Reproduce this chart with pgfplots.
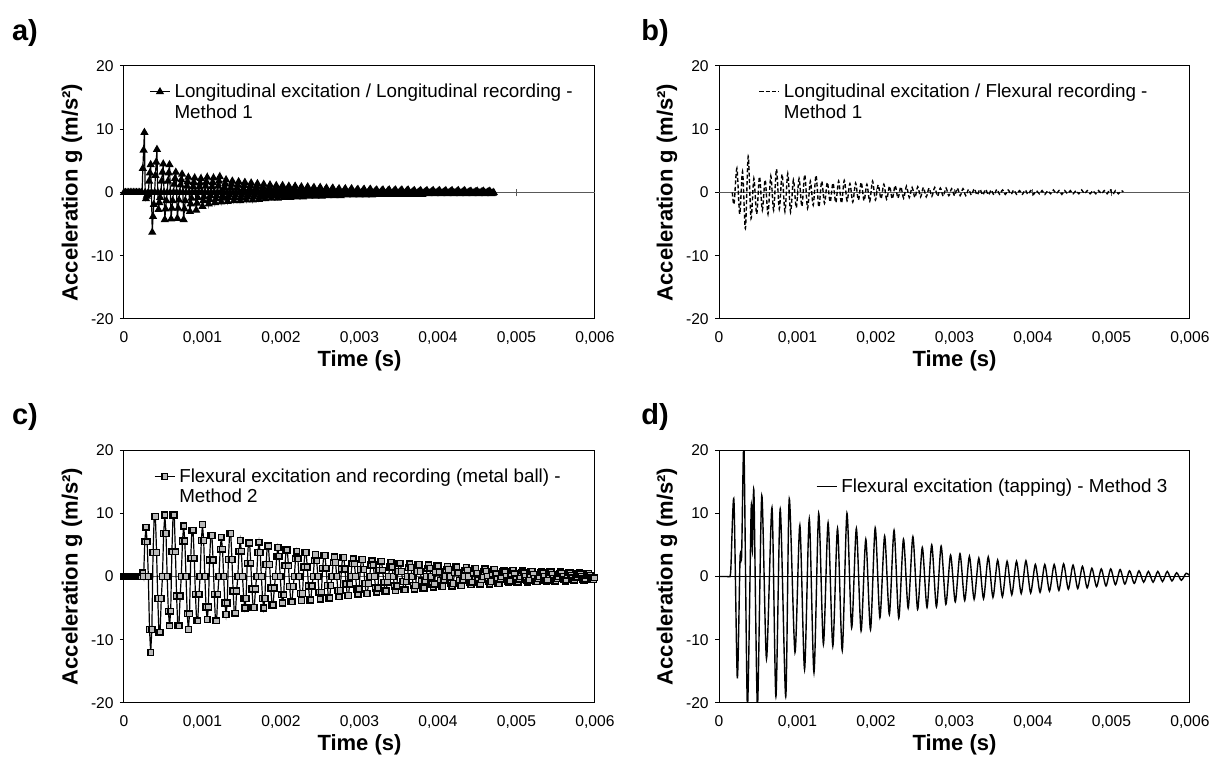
\documentclass[border=0pt]{standalone}
\usepackage{fontspec}
\setmainfont{Liberation Sans}
\usepackage{pgfplots}
\pgfplotsset{compat=1.18}
\pgfplotsset{
  panel/.style={
    scale only axis, width=235.5pt, height=126.5pt, anchor=south west,
    xmin=0, xmax=6000, ymin=-20, ymax=20,
    xtick={0,1000,2000,3000,4000,5000,6000},
    xticklabels={0,{0,001},{0,002},{0,003},{0,004},{0,005},{0,006}},
    ytick={-20,-10,0,10,20},
    yticklabels={-20,-10,0,10,20},
    scaled x ticks=false,
    tick label style={font=\fontsize{7.8}{9}\selectfont},
    xtick style={draw=none},
    ytick style={black, line width=0.5pt},
    tick align=outside, major tick length=2pt, tick pos=left,
    yticklabel style={inner sep=0pt, xshift=-3pt},
    xticklabel style={inner sep=0pt, yshift=-4.2pt},
    axis line style={black, line width=0.5pt},
    xlabel={Time (s)},
    xlabel style={font=\bfseries\fontsize{11}{13}\selectfont, inner sep=0pt, at={(axis description cs:0.5,0)}, anchor=center, yshift=-21pt},
    ylabel={Acceleration g (m/s²)},
    ylabel style={font=\bfseries\fontsize{11}{13}\selectfont, inner sep=0pt, at={([xshift=-26pt]axis description cs:0,0.5)}, anchor=center},
    legend style={draw=none, fill=none, anchor=north west, font=\fontsize{9.4}{10.3}\selectfont, inner sep=0pt, row sep=0pt, cells={anchor=west}},
    legend cell align=left,
    legend image code/.code={\draw[mark repeat=2,mark phase=2,#1] plot coordinates {(0pt,0pt)(5pt,0pt)(10pt,0pt)};},
  },
}
\begin{document}
\begin{tikzpicture}
\useasboundingbox (0,0) rectangle (605.5pt,382.5pt);
\node[font=\bfseries\fontsize{14.5}{16}\selectfont] at (12.5pt,366pt) {a)};
\node[font=\bfseries\fontsize{14.5}{16}\selectfont] at (327.5pt,366pt) {b)};
\node[font=\bfseries\fontsize{14.5}{16}\selectfont] at (12.5pt,174pt) {c)};
\node[font=\bfseries\fontsize{14.5}{16}\selectfont] at (327.5pt,174pt) {d)};
% ---------------- a ----------------
\begin{axis}[panel, at={(62pt,223pt)}, legend style={at={(axis description cs:0.053,0.95)}}]
\draw[gray!70!black, line width=0.5pt] (axis cs:0,0) -- (axis cs:6000,0)
  (axis cs:1000,-0.6) -- (axis cs:1000,0.6) (axis cs:2000,-0.6) -- (axis cs:2000,0.6)
  (axis cs:3000,-0.6) -- (axis cs:3000,0.6) (axis cs:4000,-0.6) -- (axis cs:4000,0.6)
  (axis cs:5000,-0.6) -- (axis cs:5000,0.6);
\addplot[black, line width=0.6pt, mark=triangle*, mark size=1.8pt, mark options={solid, fill=black}] coordinates {
(0,0)(20,0)(40,0)(60,0)(80,0)(100,0)(120,0)(140,0)(160,0)(180,0)(200,0)(220,0)(230,0)
(240,3.8)(250,6.7)(260,9.5)(270,0)(280,-1.0)(290,-0.6)(300,-0.3)(310,0)
(320,1.8)(330,3.1)(340,4.4)(350,0)(360,-6.3)(370,-3.8)(380,-1.9)(390,0)
(400,2.7)(410,4.8)(420,6.8)(430,0)(440,-2.7)(450,-1.6)(460,-0.8)(470,0)
(480,1.8)(490,3.2)(500,4.5)(510,0)(520,-4.3)(530,-2.6)(540,-1.3)(550,0)
(560,1.8)(570,3.1)(580,4.4)(590,0)(600,-4.2)(610,-2.5)(620,-1.3)(630,0)
(640,1.3)(650,2.2)(660,3.2)(670,0)(680,-4.1)(690,-2.5)(700,-1.2)(710,0)
(720,1.2)(730,2.0)(740,2.9)(750,0)(760,-4.3)(770,-2.6)(780,-1.3)(790,0)
(800,1.0)(810,1.7)(820,2.4)(830,0)(840,-3.0)(850,-1.8)(860,-0.9)(870,0)
(880,0.9)(890,1.6)(900,2.3)(910,0)(920,-2.8)(930,-1.7)(940,-0.8)(950,0)
(960,0.9)(970,1.5)(980,2.2)(990,0)(1000,-2.2)(1010,-1.3)(1020,-0.7)(1030,0)
(1040,1.0)(1050,1.7)(1060,2.4)(1070,0)(1080,-1.8)(1090,-1.1)(1100,-0.5)(1110,0)
(1120,0.9)(1130,1.6)(1140,2.3)(1150,0)(1160,-1.6)(1170,-1.0)(1180,-0.5)(1190,0)
(1200,1.0)(1210,1.8)(1220,2.5)(1230,0)(1240,-1.5)(1250,-0.9)(1260,-0.5)(1270,0)
(1280,0.8)(1290,1.4)(1300,2.0)(1310,0)(1320,-1.4)(1330,-0.8)(1340,-0.4)(1350,0)
(1360,0.7)(1370,1.3)(1380,1.8)(1390,0)(1400,-1.3)(1410,-0.8)(1420,-0.4)(1430,0)
(1440,0.7)(1450,1.2)(1460,1.7)(1470,0)(1480,-1.3)(1490,-0.8)(1500,-0.4)(1510,0)
(1520,0.6)(1530,1.1)(1540,1.6)(1550,0)(1560,-1.2)(1570,-0.7)(1580,-0.4)(1590,0)
(1600,0.6)(1610,1.1)(1620,1.5)(1630,0)(1640,-1.2)(1650,-0.7)(1660,-0.4)(1670,0)
(1680,0.6)(1690,1.0)(1700,1.4)(1710,0)(1720,-1.1)(1730,-0.7)(1740,-0.3)(1750,0)
(1760,0.5)(1770,0.9)(1780,1.3)(1790,0)(1800,-1.0)(1810,-0.6)(1820,-0.3)(1830,0)
(1840,0.5)(1850,0.8)(1860,1.2)(1870,0)(1880,-0.9)(1890,-0.5)(1900,-0.3)(1910,0)
(1920,0.4)(1930,0.8)(1940,1.1)(1950,0)(1960,-0.9)(1970,-0.5)(1980,-0.3)(1990,0)
(2000,0.4)(2010,0.8)(2020,1.1)(2030,0)(2040,-0.8)(2050,-0.5)(2060,-0.2)(2070,0)
(2080,0.4)(2090,0.7)(2100,1.0)(2110,0)(2120,-0.8)(2130,-0.5)(2140,-0.2)(2150,0)
(2160,0.4)(2170,0.7)(2180,1.0)(2190,0)(2200,-0.7)(2210,-0.4)(2220,-0.2)(2230,0)
(2240,0.4)(2250,0.6)(2260,0.9)(2270,0)(2280,-0.7)(2290,-0.4)(2300,-0.2)(2310,0)
(2320,0.4)(2330,0.6)(2340,0.9)(2350,0)(2360,-0.6)(2370,-0.4)(2380,-0.2)(2390,0)
(2400,0.3)(2410,0.6)(2420,0.8)(2430,0)(2440,-0.6)(2450,-0.4)(2460,-0.2)(2470,0)
(2480,0.3)(2490,0.6)(2500,0.8)(2510,0)(2520,-0.6)(2530,-0.4)(2540,-0.2)(2550,0)
(2560,0.3)(2570,0.5)(2580,0.7)(2590,0)(2600,-0.5)(2610,-0.3)(2620,-0.2)(2630,0)
(2640,0.3)(2650,0.5)(2660,0.7)(2670,0)(2680,-0.5)(2690,-0.3)(2700,-0.2)(2710,0)
(2720,0.2)(2730,0.4)(2740,0.6)(2750,0)(2760,-0.5)(2770,-0.3)(2780,-0.2)(2790,0)
(2800,0.2)(2810,0.4)(2820,0.6)(2830,0)(2840,-0.4)(2850,-0.2)(2860,-0.1)(2870,0)
(2880,0.2)(2890,0.4)(2900,0.6)(2910,0)(2920,-0.4)(2930,-0.2)(2940,-0.1)(2950,0)
(2960,0.2)(2970,0.4)(2980,0.5)(2990,0)(3000,-0.4)(3010,-0.2)(3020,-0.1)(3030,0)
(3040,0.2)(3050,0.4)(3060,0.5)(3070,0)(3080,-0.4)(3090,-0.2)(3100,-0.1)(3110,0)
(3120,0.2)(3130,0.4)(3140,0.5)(3150,0)(3160,-0.4)(3170,-0.2)(3180,-0.1)(3190,0)
(3200,0.2)(3210,0.3)(3220,0.4)(3230,0)(3240,-0.3)(3250,-0.2)(3260,-0.1)(3270,0)
(3280,0.2)(3290,0.3)(3300,0.4)(3310,0)(3320,-0.3)(3330,-0.2)(3340,-0.1)(3350,0)
(3360,0.2)(3370,0.3)(3380,0.4)(3390,0)(3400,-0.3)(3410,-0.2)(3420,-0.1)(3430,0)
(3440,0.2)(3450,0.3)(3460,0.4)(3470,0)(3480,-0.3)(3490,-0.2)(3500,-0.1)(3510,0)
(3520,0.2)(3530,0.3)(3540,0.4)(3550,0)(3560,-0.3)(3570,-0.2)(3580,-0.1)(3590,0)
(3600,0.2)(3610,0.3)(3620,0.4)(3630,0)(3640,-0.3)(3650,-0.2)(3660,-0.1)(3670,0)
(3680,0.1)(3690,0.2)(3700,0.3)(3710,0)(3720,-0.3)(3730,-0.2)(3740,-0.1)(3750,0)
(3760,0.1)(3770,0.2)(3780,0.3)(3790,0)(3800,-0.3)(3810,-0.2)(3820,-0.1)(3830,0)
(3840,0.1)(3850,0.2)(3860,0.3)(3870,0)(3880,-0.2)(3890,-0.1)(3900,-0.1)(3910,0)
(3920,0.1)(3930,0.2)(3940,0.3)(3950,0)(3960,-0.2)(3970,-0.1)(3980,-0.1)(3990,0)
(4000,0.1)(4010,0.2)(4020,0.3)(4030,0)(4040,-0.2)(4050,-0.1)(4060,-0.1)(4070,0)
(4080,0.1)(4090,0.2)(4100,0.3)(4110,0)(4120,-0.2)(4130,-0.1)(4140,-0.1)(4150,0)
(4160,0.1)(4170,0.2)(4180,0.3)(4190,0)(4200,-0.2)(4210,-0.1)(4220,-0.1)(4230,0)
(4240,0.1)(4250,0.2)(4260,0.3)(4270,0)(4280,-0.2)(4290,-0.1)(4300,-0.1)(4310,0)
(4320,0.1)(4330,0.2)(4340,0.3)(4350,0)(4360,-0.2)(4370,-0.1)(4380,-0.1)(4390,0)
(4400,0.1)(4410,0.1)(4420,0.2)(4430,0)(4440,-0.2)(4450,-0.1)(4460,-0.1)(4470,0)
(4480,0.1)(4490,0.1)(4500,0.2)(4510,0)(4520,-0.2)(4530,-0.1)(4540,-0.1)(4550,0)
(4560,0.1)(4570,0.1)(4580,0.2)(4590,0)(4600,-0.2)(4610,-0.1)(4620,-0.1)(4630,0)
(4640,0.1)(4650,0.1)(4660,0.2)(4670,0)(4680,-0.2)(4690,-0.1)(4700,-0.1)(4710,0)
};
\addlegendentry{\begin{tabular}[t]{@{}l@{}}Longitudinal excitation / Longitudinal recording -\\Method 1\end{tabular}}
\end{axis}
% ---------------- b ----------------
\begin{axis}[panel, at={(359.5pt,223pt)}, legend style={at={(axis description cs:0.083,0.95)}}]
\draw[gray!70!black, line width=0.5pt] (axis cs:0,0) -- (axis cs:6000,0)
  (axis cs:1000,-0.6) -- (axis cs:1000,0.6) (axis cs:2000,-0.6) -- (axis cs:2000,0.6)
  (axis cs:3000,-0.6) -- (axis cs:3000,0.6) (axis cs:4000,-0.6) -- (axis cs:4000,0.6)
  (axis cs:5000,-0.6) -- (axis cs:5000,0.6);
\addplot[black, line width=0.7pt, smooth, tension=0.5, dash pattern=on 2pt off 1.2pt] coordinates {
(170,0)(192,-1.8)(228,3.8)(264,-3.4)(300,3.3)(336,-5.7)(372,5.7)(408,-4.1)(444,2.2)(480,-3.4)
(516,2.5)(552,-2.8)(588,2.0)(624,-3.4)(660,2.6)(696,-2.8)(732,3.7)(768,-2.6)(804,2.9)(840,-3.0)
(876,3.0)(912,-3.1)(948,2.0)(984,-2.4)(1020,2.2)(1056,-2.2)(1092,2.8)(1128,-2.5)(1164,1.8)(1200,-2.0)
(1236,2.7)(1272,-2.3)(1308,1.8)(1344,-1.7)(1380,1.6)(1416,-1.5)(1452,1.5)(1488,-1.6)(1524,1.8)(1560,-1.7)
(1596,1.9)(1632,-1.3)(1668,1.4)(1704,-1.5)(1740,1.5)(1776,-1.2)(1812,1.6)(1848,-1.3)(1884,1.3)(1920,-1.4)
(1956,1.8)(1992,-1.2)(2028,1.2)(2064,-1.0)(2100,1.3)(2136,-1.1)(2172,1.0)(2208,-1.0)(2244,1.1)(2280,-0.9)
(2316,0.9)(2352,-0.9)(2388,1.0)(2424,-0.8)(2460,0.8)(2496,-0.8)(2532,0.9)(2568,-0.7)(2604,0.8)(2640,-0.7)
(2676,0.7)(2712,-0.6)(2748,0.8)(2784,-0.6)(2820,0.7)(2856,-0.6)(2892,0.7)(2928,-0.5)(2964,0.6)(3000,-0.5)
(3036,0.7)(3072,-0.5)(3108,0.6)(3144,-0.5)(3180,0.5)(3216,-0.4)(3252,0.6)(3288,-0.4)(3324,0.5)(3360,-0.4)
(3396,0.5)(3432,-0.4)(3468,0.4)(3504,-0.4)(3540,0.5)(3576,-0.3)(3612,0.4)(3648,-0.3)(3684,0.4)(3720,-0.3)
(3756,0.4)(3792,-0.3)(3828,0.3)(3864,-0.3)(3900,0.4)(3936,-0.3)(3972,0.3)(4008,-0.3)(4044,0.3)(4080,-0.2)
(4116,0.3)(4152,-0.3)(4188,0.3)(4224,-0.2)(4260,0.4)(4296,-0.2)(4332,0.3)(4368,-0.3)(4404,0.3)(4440,-0.2)
(4476,0.3)(4512,-0.2)(4548,0.3)(4584,-0.2)(4620,0.4)(4656,-0.2)(4692,0.3)(4728,-0.2)(4764,0.3)(4800,-0.2)
(4836,0.3)(4872,-0.2)(4908,0.3)(4944,-0.2)(4980,0.5)(5016,-0.3)(5052,0.3)(5088,-0.2)(5124,0.3)(5150,0.1)
};
\addlegendentry{\begin{tabular}[t]{@{}l@{}}Longitudinal excitation / Flexural recording -\\Method 1\end{tabular}}
\end{axis}
% ---------------- c ----------------
\begin{axis}[panel, at={(62pt,31pt)}, legend style={at={(axis description cs:0.063,0.947)}}]
\draw[gray!70!black, line width=0.5pt] (axis cs:0,0) -- (axis cs:6000,0);
\addplot[black, line width=0.6pt, mark=square*, mark size=1.45pt, mark options={solid, fill=gray!55, draw=black, line width=0.75pt}] coordinates {
(0,0)(20,0)(40,0)(60,0)(80,0)(100,0)(120,0)(140,0)(160,0)(180,0)(200,0)(220,0)(240,0.6)
(250,0)(265,5.5)(280,7.8)(295,5.5)(310,0)(325,-8.4)(340,-12.0)(355,-8.4)
(370,3.8)(385,9.5)(400,9.5)(415,3.8)(430,-3.5)(445,-8.8)(460,-8.8)(475,-3.5)
(490,0)(505,6.8)(520,9.7)(535,6.8)(550,0)(565,-5.5)(580,-7.8)(595,-5.5)
(610,3.9)(625,9.7)(640,9.7)(655,3.9)(670,-3.1)(685,-7.8)(700,-7.8)(715,-3.1)
(730,0)(745,5.6)(760,8.0)(775,5.6)(790,0)(805,-5.9)(820,-8.4)(835,-5.9)
(850,2.9)(865,7.3)(880,7.3)(895,2.9)(910,-2.8)(925,-7.0)(940,-7.0)(955,-2.8)
(970,0)(985,5.7)(1000,8.2)(1015,5.7)(1030,0)(1045,-4.8)(1060,-6.8)(1075,-4.8)
(1090,2.6)(1105,6.5)(1120,6.5)(1135,2.6)(1150,-2.8)(1165,-7.0)(1180,-7.0)(1195,-2.8)
(1210,0)(1225,4.3)(1240,6.2)(1255,4.3)(1270,0)(1285,-4.2)(1300,-6.0)(1315,-4.2)
(1330,2.7)(1345,6.8)(1360,6.8)(1375,2.7)(1390,-2.3)(1405,-5.8)(1420,-5.8)(1435,-2.3)
(1450,0)(1465,4.0)(1480,5.7)(1495,4.0)(1510,0)(1525,-3.5)(1540,-5.0)(1555,-3.5)
(1570,2.1)(1585,5.3)(1600,5.3)(1615,2.1)(1630,-2.0)(1645,-4.9)(1660,-4.9)(1675,-2.0)
(1690,0)(1705,3.8)(1720,5.4)(1735,3.8)(1750,0)(1765,-3.5)(1780,-5.0)(1795,-3.5)
(1810,1.9)(1825,4.8)(1840,4.8)(1855,1.9)(1870,-1.8)(1885,-4.5)(1900,-4.5)(1915,-1.8)
(1930,0)(1945,3.2)(1960,4.6)(1975,3.2)(1990,0)(2005,-2.9)(2020,-4.2)(2035,-2.9)
(2050,1.7)(2065,4.2)(2080,4.2)(2095,1.7)(2110,-1.6)(2125,-4.0)(2140,-4.0)(2155,-1.6)
(2170,0)(2185,2.8)(2200,4.0)(2215,2.8)(2230,0)(2245,-2.7)(2260,-3.8)(2275,-2.7)
(2290,1.5)(2305,3.8)(2320,3.8)(2335,1.5)(2350,-1.5)(2365,-3.7)(2380,-3.7)(2395,-1.5)
(2410,0)(2425,2.5)(2440,3.5)(2455,2.5)(2470,0)(2485,-2.5)(2500,-3.6)(2515,-2.5)
(2530,1.3)(2545,3.3)(2560,3.3)(2575,1.3)(2590,-1.4)(2605,-3.4)(2620,-3.4)(2635,-1.4)
(2650,0)(2665,2.2)(2680,3.1)(2695,2.2)(2710,0)(2725,-2.2)(2740,-3.2)(2755,-2.2)
(2770,1.2)(2785,3.0)(2800,3.0)(2815,1.2)(2830,-1.2)(2845,-3.0)(2860,-3.0)(2875,-1.2)
(2890,0)(2905,2.0)(2920,2.8)(2935,2.0)(2950,0)(2965,-2.0)(2980,-2.8)(2995,-2.0)
(3010,1.1)(3025,2.7)(3040,2.7)(3055,1.1)(3070,-1.1)(3085,-2.7)(3100,-2.7)(3115,-1.1)
(3130,0)(3145,1.8)(3160,2.5)(3175,1.8)(3190,0)(3205,-1.8)(3220,-2.5)(3235,-1.8)
(3250,1.0)(3265,2.4)(3280,2.4)(3295,1.0)(3310,-0.9)(3325,-2.3)(3340,-2.3)(3355,-0.9)
(3370,0)(3385,1.5)(3400,2.2)(3415,1.5)(3430,0)(3445,-1.5)(3460,-2.2)(3475,-1.5)
(3490,0.8)(3505,2.1)(3520,2.1)(3535,0.8)(3550,-0.8)(3565,-2.1)(3580,-2.1)(3595,-0.8)
(3610,0)(3625,1.4)(3640,2.0)(3655,1.4)(3670,0)(3685,-1.4)(3700,-2.0)(3715,-1.4)
(3730,0.8)(3745,1.9)(3760,1.9)(3775,0.8)(3790,-0.7)(3805,-1.8)(3820,-1.8)(3835,-0.7)
(3850,0)(3865,1.3)(3880,1.8)(3895,1.3)(3910,0)(3925,-1.2)(3940,-1.7)(3955,-1.2)
(3970,0.7)(3985,1.7)(4000,1.7)(4015,0.7)(4030,-0.6)(4045,-1.6)(4060,-1.6)(4075,-0.6)
(4090,0)(4105,1.1)(4120,1.6)(4135,1.1)(4150,0)(4165,-1.1)(4180,-1.5)(4195,-1.1)
(4210,0.6)(4225,1.5)(4240,1.5)(4255,0.6)(4270,-0.6)(4285,-1.4)(4300,-1.4)(4315,-0.6)
(4330,0)(4345,1.0)(4360,1.4)(4375,1.0)(4390,0)(4405,-0.9)(4420,-1.3)(4435,-0.9)
(4450,0.5)(4465,1.3)(4480,1.3)(4495,0.5)(4510,-0.5)(4525,-1.2)(4540,-1.2)(4555,-0.5)
(4570,0)(4585,0.8)(4600,1.2)(4615,0.8)(4630,0)(4645,-0.8)(4660,-1.2)(4675,-0.8)
(4690,0.4)(4705,1.1)(4720,1.1)(4735,0.4)(4750,-0.4)(4765,-1.1)(4780,-1.1)(4795,-0.4)
(4810,0)(4825,0.7)(4840,1.0)(4855,0.7)(4870,0)(4885,-0.7)(4900,-1.0)(4915,-0.7)
(4930,0.4)(4945,1.0)(4960,1.0)(4975,0.4)(4990,-0.4)(5005,-0.9)(5020,-0.9)(5035,-0.4)
(5050,0)(5065,0.6)(5080,0.9)(5095,0.6)(5110,0)(5125,-0.6)(5140,-0.9)(5155,-0.6)
(5170,0.3)(5185,0.8)(5200,0.8)(5215,0.3)(5230,-0.3)(5245,-0.8)(5260,-0.8)(5275,-0.3)
(5290,0)(5305,0.6)(5320,0.8)(5335,0.6)(5350,0)(5365,-0.6)(5380,-0.8)(5395,-0.6)
(5410,0.3)(5425,0.7)(5440,0.7)(5455,0.3)(5470,-0.3)(5485,-0.7)(5500,-0.7)(5515,-0.3)
(5530,0)(5545,0.5)(5560,0.7)(5575,0.5)(5590,0)(5605,-0.5)(5620,-0.7)(5635,-0.5)
(5650,0.2)(5665,0.6)(5680,0.6)(5695,0.2)(5710,-0.2)(5725,-0.6)(5740,-0.6)(5755,-0.2)
(5770,0)(5785,0.4)(5800,0.6)(5815,0.4)(5830,0)(5845,-0.4)(5860,-0.6)(5875,-0.4)
(5890,0.2)(5905,0.5)(5920,0.5)(5935,0.2)(5950,-0.2)(5965,-0.5)(5980,-0.5)(5995,-0.2)
};
\addlegendentry{\begin{tabular}[t]{@{}l@{}}Flexural excitation and recording (metal ball) -\\Method 2\end{tabular}}
\end{axis}
% ---------------- d ----------------
\begin{axis}[panel, at={(359.5pt,31pt)}, legend style={at={(axis description cs:0.205,0.905)}}]
\draw[black, line width=0.8pt] (axis cs:0,0) -- (axis cs:6000,0);
\addplot[black, line width=0.7pt, smooth, tension=0.45] coordinates {
(0,0)(100,0)(130,0)(150,1.0)(190,12.1)(233,-16)(268,2.9)(288,3.2)(318,20.3)(362,-20.5)(410,10.8)(425,4.0)
(445,13.3)(490,-20.5)(545,12.8)(605,-13)(675,10.9)(725,-19)(780,10.7)(850,-19)(895,12.3)(968,-12)
(1030,8.1)(1090,-14.7)(1150,9.1)(1210,-15.2)(1270,10.0)(1330,-10.7)(1390,8.5)(1450,-11.0)(1510,7.6)(1570,-11.7)
(1630,10.0)(1690,-8.1)(1750,7.6)(1810,-8.6)(1870,5.9)(1930,-8.4)(1990,7.7)(2050,-6.5)(2110,6.4)(2170,-6.0)
(2230,7.3)(2290,-6.6)(2350,5.9)(2410,-5.0)(2470,6.3)(2530,-5.2)(2590,4.6)(2650,-4.9)(2710,5.0)(2770,-4.8)
(2830,4.8)(2890,-4.4)(2950,3.4)(3010,-4.0)(3070,3.6)(3130,-3.8)(3190,3.2)(3250,-3.6)(3310,2.9)(3370,-3.5)
(3430,3.1)(3490,-3.3)(3550,2.6)(3610,-3.2)(3670,2.4)(3730,-2.9)(3790,2.4)(3850,-2.7)(3910,2.5)(3970,-2.6)
(4030,1.9)(4090,-2.5)(4150,1.9)(4210,-2.3)(4270,1.9)(4330,-2.2)(4390,2.0)(4450,-2.0)(4510,1.8)(4570,-1.9)
(4630,1.6)(4690,-1.8)(4750,1.3)(4810,-1.6)(4870,1.2)(4930,-1.5)(4990,1.2)(5050,-1.3)(5110,1.1)(5170,-1.2)
(5230,0.9)(5290,-1.1)(5350,0.9)(5410,-0.9)(5470,0.8)(5530,-0.9)(5590,0.8)(5650,-0.8)(5710,0.8)(5770,-0.7)
(5830,0.6)(5890,-0.6)(5950,0.5)(6000,0.1)
};
\addlegendentry{Flexural excitation (tapping) - Method 3}
\end{axis}
\end{tikzpicture}
\end{document}
